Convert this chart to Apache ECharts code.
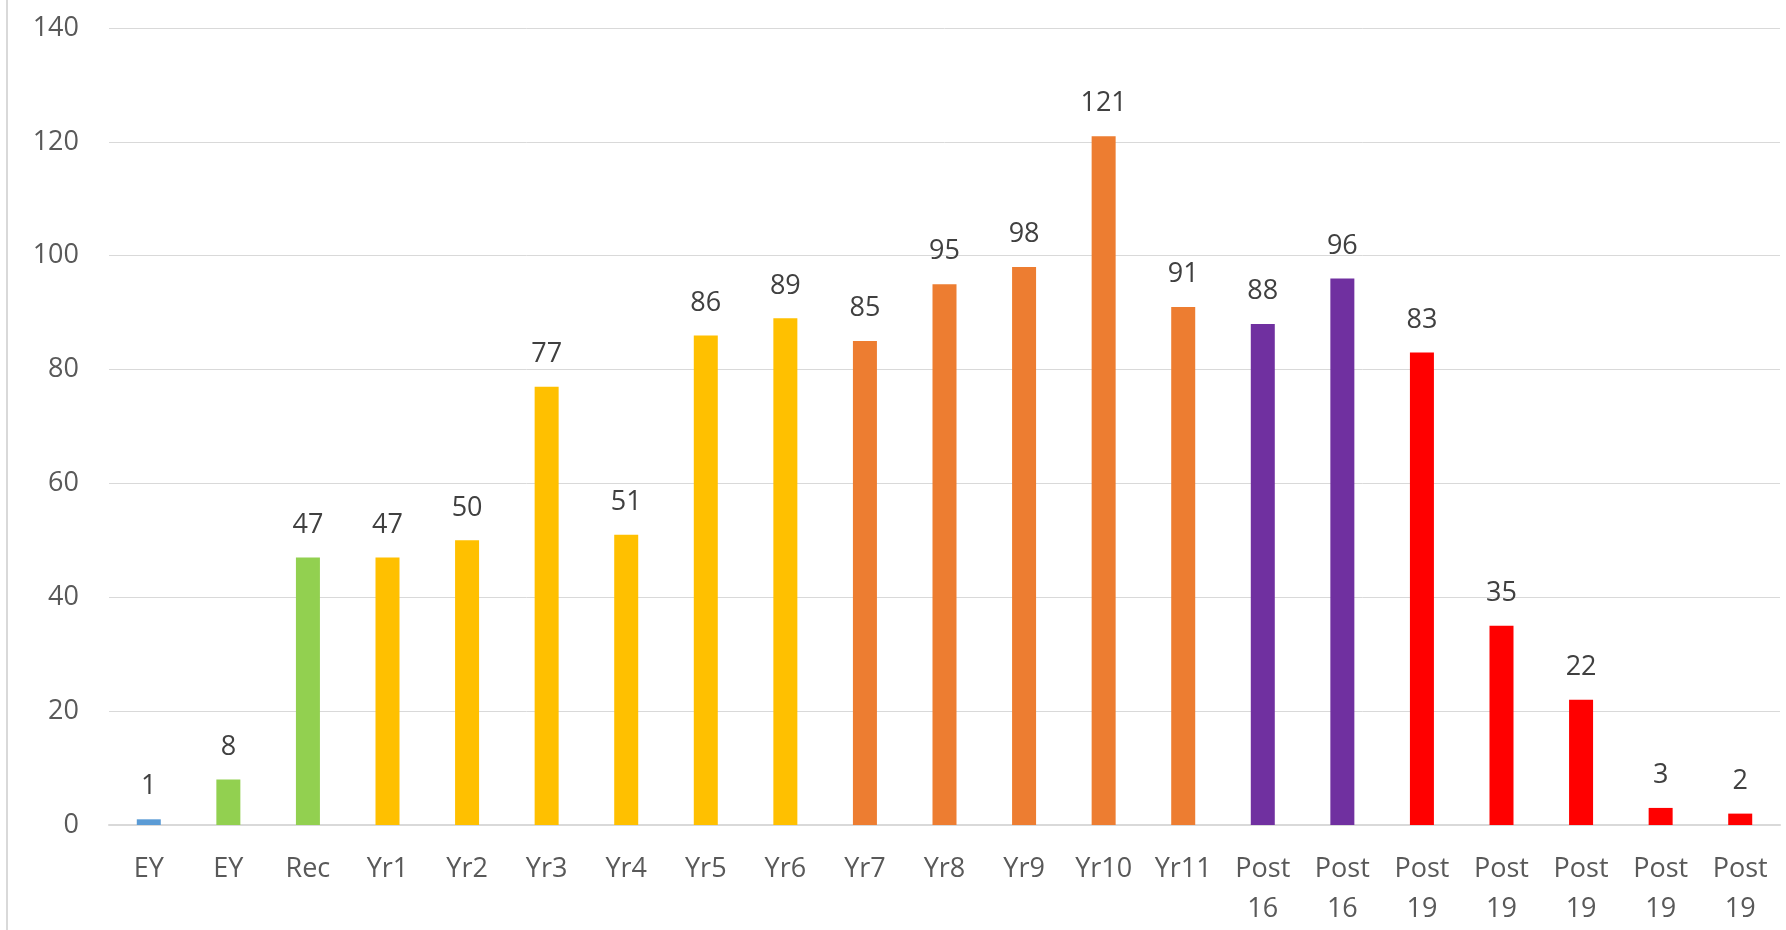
<!DOCTYPE html>
<html>
<head>
<meta charset="utf-8">
<script src="https://cdn.jsdelivr.net/npm/echarts@6/dist/echarts.min.js"></script>
<style>
  html, body { margin: 0; padding: 0; background: #fff; }
  #chart { width: 1786px; height: 930px; }
</style>
</head>
<body>
<div id="chart"></div>
<script>
// year groups along the bottom
const categories = ['EY', 'EY', 'Rec', 'Yr1', 'Yr2', 'Yr3', 'Yr4', 'Yr5', 'Yr6', 'Yr7', 'Yr8', 'Yr9', 'Yr10', 'Yr11',
  'Post 16', 'Post 16', 'Post 19', 'Post 19', 'Post 19', 'Post 19', 'Post 19']
const values = [1, 8, 47, 47, 50, 77, 51, 86, 89, 85, 95, 98, 121, 91, 88, 96, 83, 35, 22, 3, 2]
// one colour per bar
const barColors = ['#5B9BD5', '#92D050', '#92D050',
  '#FFC000', '#FFC000', '#FFC000', '#FFC000', '#FFC000', '#FFC000',
  '#ED7D31', '#ED7D31', '#ED7D31', '#ED7D31', '#ED7D31',
  '#7030A0', '#7030A0',
  '#FF0000', '#FF0000', '#FF0000', '#FF0000', '#FF0000']
const yTicks = [0, 20, 40, 60, 80, 100, 120, 140]

const font = 'Open Sans'
var myChart = echarts.init(document.getElementById('chart'))

var option = {
  animation: false,
  grid: { left: 109, right: 6, top: 28, bottom: 105, containLabel: false },
  xAxis: {
    type: 'category',
    data: categories,
    axisLine: { lineStyle: { color: '#D9D9D9', width: 2 } },
    axisTick: { show: false },
    axisLabel: {
      interval: 0,
      margin: 24,
      color: '#595959',
      fontFamily: font,
      fontSize: 27,
      lineHeight: 40,
      formatter: v => v.replace(' ', '\n')
    }
  },
  yAxis: {
    type: 'value',
    min: yTicks[0],
    max: yTicks[yTicks.length - 1],
    interval: 20,
    axisLine: { show: false },
    axisTick: { show: false },
    splitLine: { lineStyle: { color: '#D9D9D9', width: 1 } },
    axisLabel: {
      margin: 30,
      color: '#595959',
      fontFamily: font,
      fontSize: 27
    }
  },
  series: [
    {
      type: 'bar',
      barWidth: 24,
      data: values.map((v, i) => ({ value: v, itemStyle: { color: barColors[i] } })),
      label: {
        show: true,
        position: 'top',
        distance: 19,
        color: '#404040',
        fontFamily: font,
        fontSize: 27
      }
    }
  ],
  graphic: [
    {
      type: 'rect',
      shape: { x: 6, y: 0, width: 2, height: 930 },
      style: { fill: '#D9D9D9' }
    }
  ]
}

myChart.setOption(option)
</script>
</body>
</html>
